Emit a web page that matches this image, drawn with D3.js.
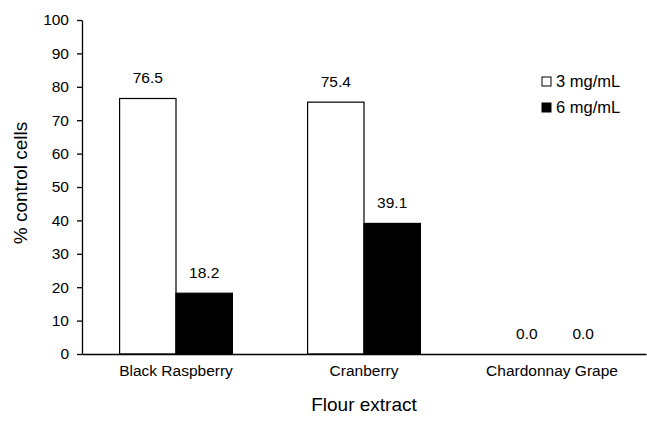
<!DOCTYPE html>
<html>
<head>
<meta charset="utf-8">
<script src="https://cdn.jsdelivr.net/npm/d3@7"></script>
<style>
  body { margin: 0; background: #fff; }
  text { font-family: "Liberation Sans", Arial, sans-serif; fill: #000; }
</style>
</head>
<body>
<svg id="chart" width="647" height="422"></svg>
<script>
// data
var categories = ['Black Raspberry', 'Cranberry', 'Chardonnay Grape'];
var seriesNames = ['3 mg/mL', '6 mg/mL'];
var values3 = [76.5, 75.4, 0.0];
var values6 = [18.2, 39.1, 0.0];
var yTicks = [0, 10, 20, 30, 40, 50, 60, 70, 80, 90, 100];

var fills = ['#fff', '#000'];
var small = '15.5px', big = '19px';

var svg = d3.select('#chart');
var margin = {left: 82, right: 1, top: 20, bottom: 68};
var width = 647 - margin.left - margin.right;
var height = 422 - margin.top - margin.bottom;

var g = svg.append('g').attr('transform', 'translate(' + margin.left + ',' + margin.top + ')');

var x0 = d3.scaleBand().domain(categories).range([0, width]).paddingInner(0.4).paddingOuter(0.2);
var x1 = d3.scaleBand().domain(seriesNames).range([0, x0.bandwidth()]);
var y = d3.scaleLinear().domain([0, 100]).range([height, 0]);

// build rows from the arrays
var rows = categories.map(function(c, i) {
    return {cat: c, vals: [
        {s: seriesNames[0], v: values3[i], k: 0},
        {s: seriesNames[1], v: values6[i], k: 1}
    ]};
});

// bars
var groups = g.selectAll('g.grp').data(rows).enter().append('g')
    .attr('class', 'grp')
    .attr('transform', d => 'translate(' + x0(d.cat) + ',0)');

groups.selectAll('rect').data(d => d.vals.filter(v => v.v > 0)).enter()
    .append('rect')
    .attr('x', d => x1(d.s))
    .attr('y', d => y(d.v))
    .attr('width', x1.bandwidth())
    .attr('height', d => y(0) - y(d.v))
    .attr('fill', d => fills[d.k])
    .attr('stroke', '#000')
    .attr('stroke-width', 1.2);

groups.selectAll('text.val').data(d => d.vals).enter()
    .append('text')
    .attr('class', 'val')
    .attr('x', d => x1(d.s) + x1.bandwidth() / 2 + (d.v === 0 ? 3 : 0))
    .attr('y', d => y(d.v) - 15)
    .attr('text-anchor', 'middle')
    .style('font-size', small)
    .text(d => d.v.toFixed(1));

// y axis
var yAxis = g.append('g')
    .call(d3.axisLeft(y).tickValues(yTicks).tickSize(5).tickSizeOuter(0).tickPadding(8));
yAxis.select('.domain').attr('stroke', '#000').attr('stroke-width', 1.3);
yAxis.selectAll('.tick line').attr('stroke', '#000').attr('stroke-width', 1.3);
yAxis.selectAll('.tick text').style('font-size', small)
    .style('font-family', '"Liberation Sans", Arial, sans-serif');

// x axis
var xAxis = g.append('g')
    .attr('transform', 'translate(0,' + height + ')')
    .call(d3.axisBottom(x0).tickSize(0).tickSizeOuter(0).tickPadding(11));
xAxis.select('.domain').attr('stroke', '#000').attr('stroke-width', 1.6);
xAxis.selectAll('.tick text').style('font-size', small)
    .style('font-family', '"Liberation Sans", Arial, sans-serif');

// axis titles
svg.append('text')
    .attr('transform', 'translate(27,' + (margin.top + height / 2 - 4) + ') rotate(-90)')
    .attr('text-anchor', 'middle')
    .style('font-size', big)
    .text('% control cells');

svg.append('text')
    .attr('x', margin.left + width / 2)
    .attr('y', 411)
    .attr('text-anchor', 'middle')
    .style('font-size', big)
    .text('Flour extract');

// legend
var legend = svg.append('g').attr('transform', 'translate(542,77)');
var items = legend.selectAll('g').data(seriesNames).enter().append('g')
    .attr('transform', (d, i) => 'translate(0,' + i * 26 + ')');
items.append('rect')
    .attr('width', 9).attr('height', 9)
    .attr('fill', (d, i) => fills[i])
    .attr('stroke', '#000').attr('stroke-width', 1);
items.append('text')
    .attr('x', 14).attr('y', 10)
    .style('font-size', '16.5px')
    .text(d => d);
</script>
</body>
</html>
